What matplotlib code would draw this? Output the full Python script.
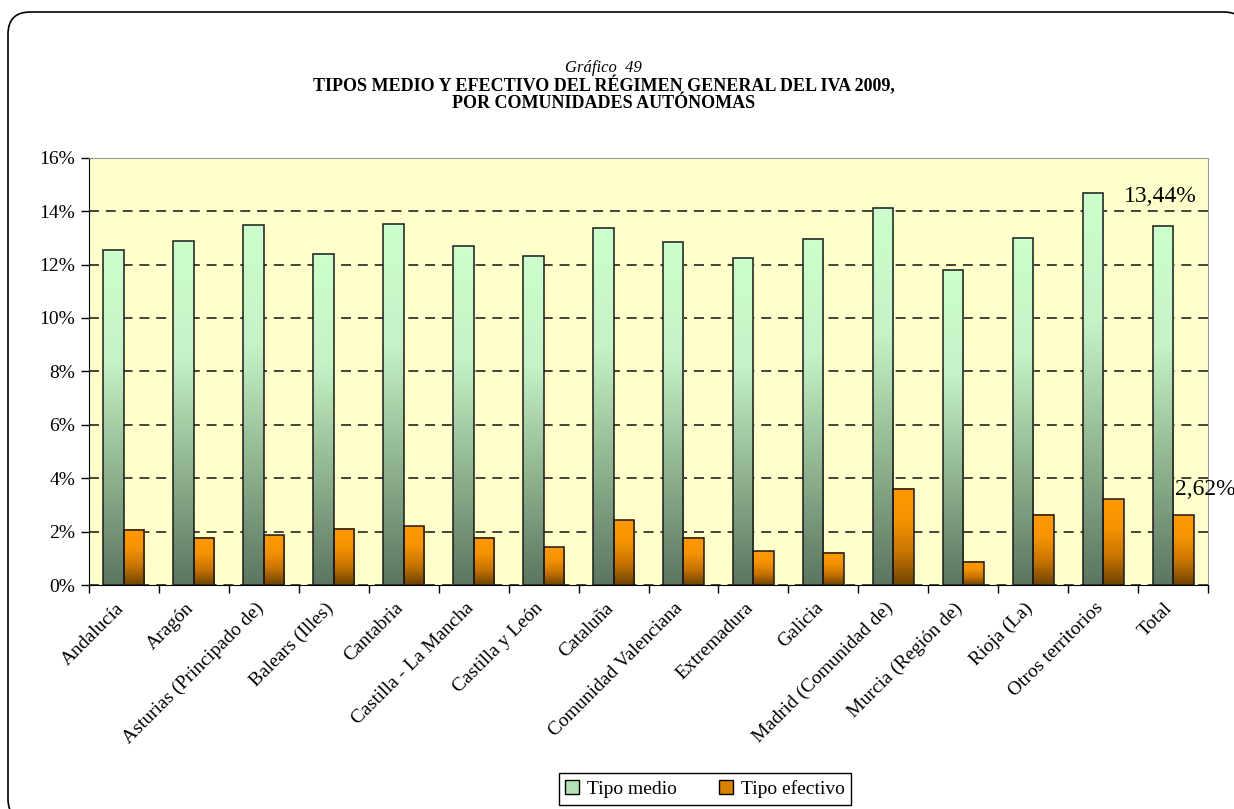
"""
Gráfico 49: tipos medio y efectivo del régimen general del IVA 2009,
por comunidades autónomas.
"""

import matplotlib
matplotlib.use("Agg")
import matplotlib.pyplot as plt
import matplotlib.ticker as mticker
import matplotlib.transforms as mtransforms
from matplotlib.colors import LinearSegmentedColormap
from matplotlib.patches import FancyBboxPatch, Patch
import numpy as np

# ---- Data ----
REGIONS = [
    "Andalucía", "Aragón", "Asturias (Principado de)", "Balears (Illes)",
    "Cantabria", "Castilla - La Mancha", "Castilla y León", "Cataluña",
    "Comunidad Valenciana", "Extremadura", "Galicia", "Madrid (Comunidad de)",
    "Murcia (Región de)", "Rioja (La)", "Otros territorios", "Total",
]
TIPO_MEDIO = [12.55, 12.88, 13.47, 12.40, 13.51, 12.68, 12.33, 13.37,
              12.84, 12.25, 12.96, 14.13, 11.80, 13.01, 14.68, 13.44]
TIPO_EFECTIVO = [2.06, 1.77, 1.86, 2.11, 2.20, 1.76, 1.42, 2.43,
                 1.76, 1.27, 1.21, 3.61, 0.87, 2.63, 3.21, 2.62]

# ---- Style ----
FONT = "Liberation Serif"
PLOT_BG = "#ffffcc"
GREEN_CMAP = LinearSegmentedColormap.from_list(
    "verde", ["#5c7560", "#8fb48f", "#c6f2c6", "#ccffcc"])
ORANGE_CMAP = LinearSegmentedColormap.from_list(
    "naranja", ["#6e4300", "#c77400", "#f59300", "#ff9900"])

plt.rcParams.update({
    "font.family": FONT,
    "font.size": 14,
})

fig = plt.figure(figsize=(12.34, 8.09), dpi=100)

# rounded outer frame (behind everything)
frame = FancyBboxPatch(
    (8 / 1234, -12 / 809), 1238 / 1234, 809 / 809,
    boxstyle="round,pad=0,rounding_size=0.018",
    transform=fig.transFigure, facecolor="white", edgecolor="black",
    linewidth=1.2, zorder=-10, mutation_aspect=1234 / 809,
)
fig.patches.append(frame)

fig.text(0.489, 1 - 68 / 809, "Gráfico  49", ha="center", va="center",
         fontsize=12, style="italic")
fig.text(0.489, 1 - 86 / 809, "TIPOS MEDIO Y EFECTIVO DEL RÉGIMEN GENERAL DEL IVA 2009,",
         ha="center", va="center", fontsize=13, fontweight="bold")
fig.text(0.489, 1 - 103 / 809, "POR COMUNIDADES AUTÓNOMAS",
         ha="center", va="center", fontsize=13, fontweight="bold")

ax = fig.add_axes([89 / 1234, 1 - 585 / 809, (1208 - 89) / 1234, (585 - 157.7) / 809])
ax.set_facecolor(PLOT_BG)

x = np.arange(len(REGIONS))
w = 0.293
bars_m = ax.bar(x - w / 2, TIPO_MEDIO, w, facecolor="none",
                edgecolor="#1a1a1a", linewidth=1.1, zorder=4)
bars_e = ax.bar(x + w / 2, TIPO_EFECTIVO, w, facecolor="none",
                edgecolor="#1a1a1a", linewidth=1.1, zorder=4)

# vertical gradient inside each bar
grad = np.linspace(0, 1, 256).reshape(-1, 1)
for bars, cmap in ((bars_m, GREEN_CMAP), (bars_e, ORANGE_CMAP)):
    for b in bars:
        x0, y0 = b.get_x(), b.get_y()
        ax.imshow(grad, cmap=cmap, origin="lower", aspect="auto",
                  extent=(x0, x0 + b.get_width(), y0, y0 + b.get_height()),
                  zorder=3, interpolation="bilinear")

ax.set_xlim(-0.5, len(REGIONS) - 0.5)
ax.set_ylim(0, 16)

# y axis
ax.yaxis.set_major_locator(mticker.MultipleLocator(2))
ax.yaxis.set_major_formatter(mticker.FuncFormatter(lambda v, _: f"{int(v)}%"))
ax.tick_params(axis="y", direction="out", length=6, width=1, pad=4, labelsize=14)
ax.grid(axis="y", color="#111111", linestyle=(0, (6.5, 4.5)), linewidth=1.1, zorder=1)

# x axis: ticks between categories, labels at centres
ax.set_xticks(np.arange(-0.5, len(REGIONS), 1.0))
ax.set_xticklabels([])
ax.tick_params(axis="x", which="major", direction="out", length=6, width=1)
ax.set_xticks(x, minor=True)
ax.set_xticklabels(REGIONS, minor=True, rotation=45, ha="right",
                   rotation_mode="anchor", fontsize=14)
ax.tick_params(axis="x", which="minor", length=0, pad=9)
shift = mtransforms.ScaledTranslation(-9 / 100, -2 / 100, fig.dpi_scale_trans)
for lbl in ax.get_xticklabels(minor=True):
    lbl.set_transform(lbl.get_transform() + shift)

ax.spines["top"].set_color("#999999")
ax.spines["right"].set_color("#999999")
ax.spines["left"].set_color("black")
ax.spines["bottom"].set_color("black")
ax.set_axisbelow(True)

# value labels for Total
ax.text(x[-1] - w / 2 - 0.03, 14.54, "13,44%", ha="center", va="center",
        fontsize=17, zorder=5)
ax.text(x[-1] + 0.03, 3.56, "2,62%", ha="left", va="center",
        fontsize=17, zorder=5, clip_on=False)

# legend
handles = [
    Patch(facecolor="#b4e2b4", edgecolor="black", label="Tipo medio"),
    Patch(facecolor="#d98200", edgecolor="black", label="Tipo efectivo"),
]
fig.legend(handles=handles, loc="center", bbox_to_anchor=(705 / 1234, 1 - 789 / 809),
           ncol=2, frameon=True, fancybox=False, edgecolor="black",
           fontsize=14, handlelength=0.7, handleheight=0.7, handletextpad=0.4,
           columnspacing=2.2, borderpad=0.35, framealpha=1)

fig.savefig("out.png", dpi=100)
